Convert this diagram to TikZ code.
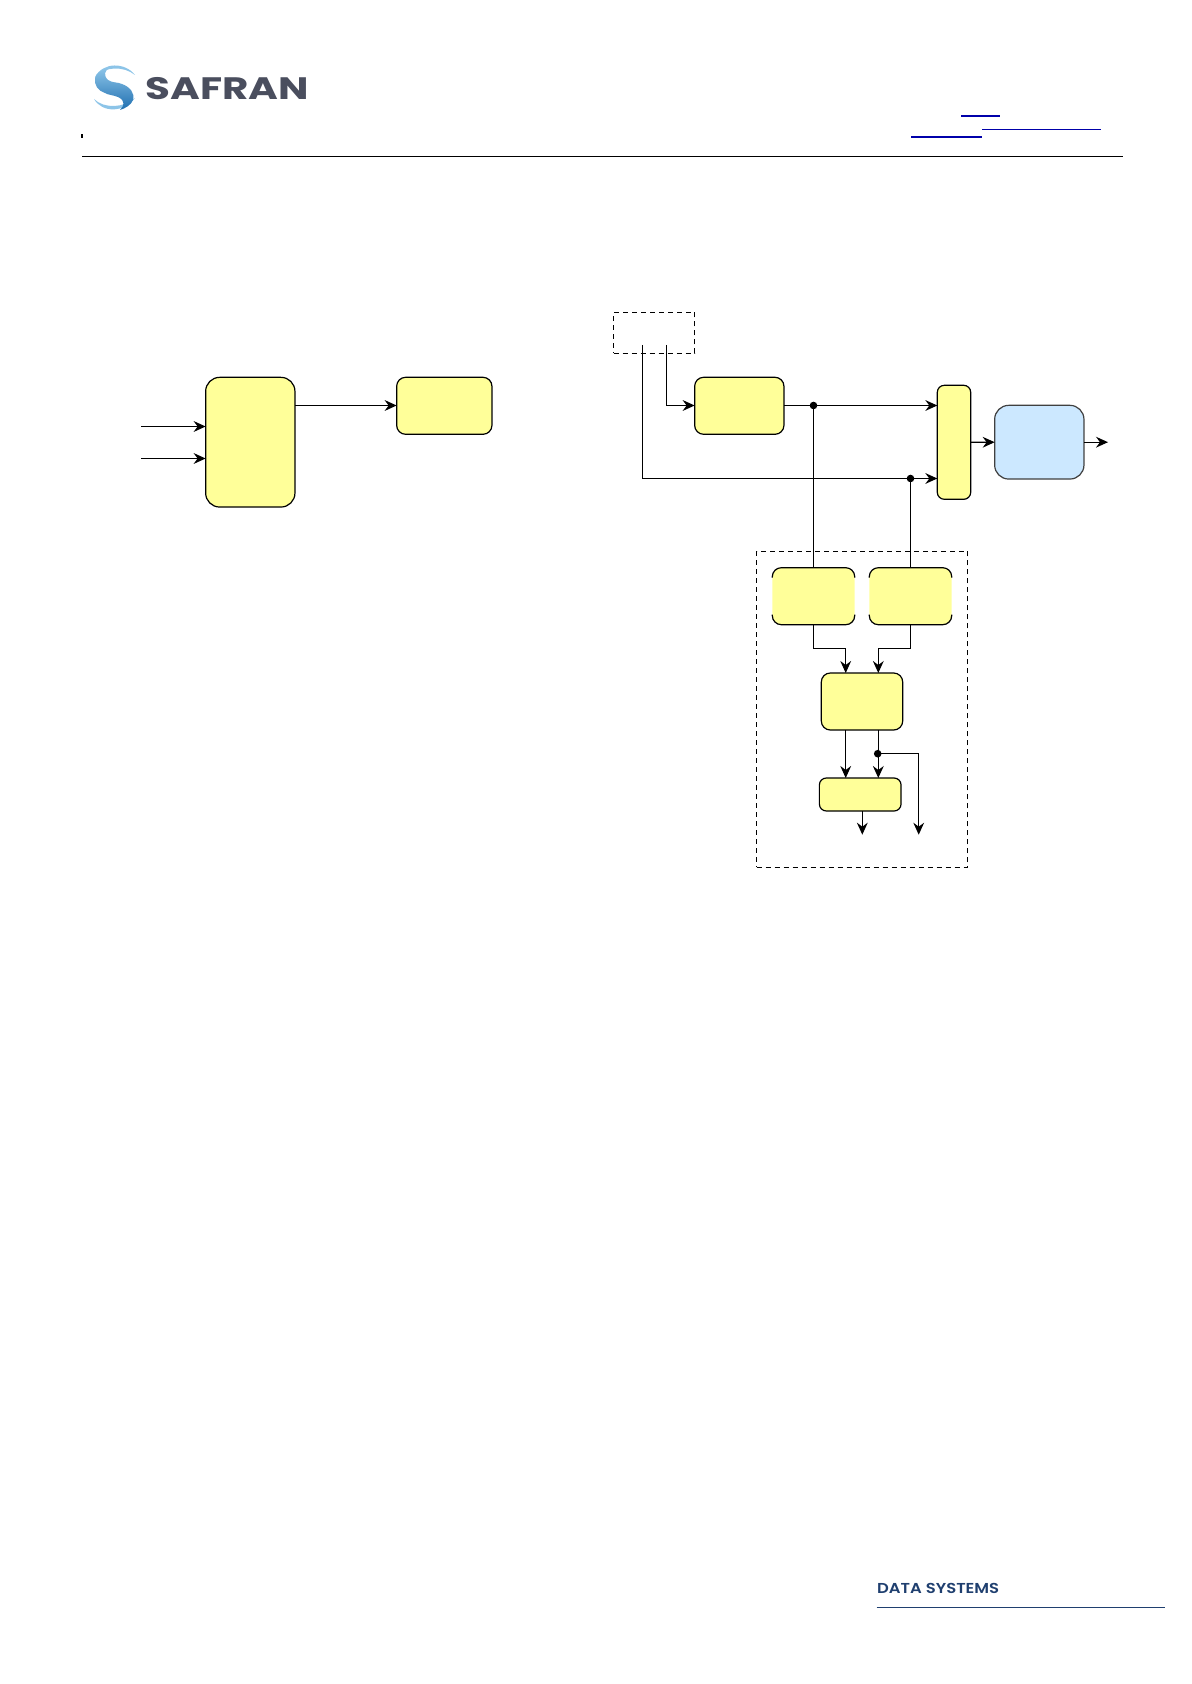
\documentclass[tikz,border=0pt]{standalone}
\usepackage{fontspec}
\usetikzlibrary{arrows.meta,calc}
\newfontfamily\logofont{Poppins}
\newfontfamily\footfont{Poppins SemiBold}
\definecolor{boxyellow}{HTML}{FFFF99}
\definecolor{boxblue}{HTML}{CCE8FF}
\definecolor{linkblue}{HTML}{0000AA}
\definecolor{footblue}{HTML}{1F3F6F}
\definecolor{logogrey}{HTML}{4A4E5E}
\definecolor{swooshlight}{HTML}{8CC4E8}
\definecolor{swooshdark}{HTML}{1F6FB0}
\tikzset{
  yellowbox/.style={draw=black,fill=boxyellow,line width=0.6pt,rounded corners=#1,inner sep=0pt,outer sep=0pt},
  yellowbox/.default=4.5pt,
  softbox/.style={fill=boxyellow,rounded corners=4.5pt,inner sep=0pt,outer sep=0pt},
  bluebox/.style={draw=black!75,fill=boxblue,line width=0.6pt,rounded corners=7pt,inner sep=0pt,outer sep=0pt},
  dashbox/.style={draw=black,dashed,dash pattern=on 2.5pt off 2pt,line width=0.5pt,inner sep=0pt,outer sep=0pt},
  wire/.style={draw=black,line width=0.6pt},
  arr/.style={wire,-{Stealth[length=6pt,width=5.4pt,inset=2pt]}},
  junction/.style={circle,fill=black,inner sep=0pt,outer sep=0pt,minimum size=3.8pt},
  rulek/.style={draw=black,line width=0.6pt},
}
\begin{document}
\begin{tikzpicture}[x=0.5pt,y=-0.5pt]
\useasboundingbox (0,0) rectangle (1191,1684);
% header
\draw[rulek] (82,156.3) -- (1123,156.3);
\fill[black] (80.8,134) rectangle (82.6,138.5);
\draw[linkblue,line width=1pt] (961,115.7) -- (1000,115.7);
\draw[linkblue,line width=0.5pt] (982,129.3) -- (1101,129.3);
\draw[linkblue,line width=1pt] (911,137) -- (982,137);
% logo
\fill[swooshlight] (95,77) .. controls (103,62) and (125,62) .. (135,75) .. controls (124,66) and (105,66) .. (95,77) -- cycle;
\fill[swooshlight] (94,99) .. controls (102,113) and (124,113) .. (135,98) .. controls (124,108) and (104,109) .. (94,99) -- cycle;
\shade[top color=swooshlight,bottom color=swooshdark]
  (109,68) .. controls (105,71) and (103,75) .. (108,80)
  .. controls (112,83) and (118,82) .. (122,84)
  .. controls (130,87) and (135,93) .. (133,100)
  .. controls (131,105) and (126,108) .. (120,110)
  .. controls (124,106) and (126,101) .. (118,97)
  .. controls (113,95) and (108,95) .. (105,93)
  .. controls (98,91) and (94,85) .. (95,78)
  .. controls (96,73) and (103,69) .. (109,68) -- cycle;
\node[anchor=west,inner sep=0pt,text=logogrey,xscale=1.305] (logo) at (145,89) {\logofont\bfseries\fontsize{15.5pt}{15.5pt}\selectfont SAFRAN};
% footer
\node[anchor=west,inner sep=0pt,text=footblue,xscale=1.14] (foot) at (876.7,1588) {\footfont\fontsize{7.2pt}{8pt}\selectfont DATA SYSTEMS};
\draw[footblue,line width=0.7pt] (876.7,1607.3) -- (1165,1607.3);
% left diagram
\node[yellowbox=7pt,minimum width=44.65pt,minimum height=64.85pt] (A) at (250.3,442.2) {};
\node[yellowbox,minimum width=47.65pt,minimum height=28.5pt] (B) at (444.3,405.8) {};
\coordinate (inA) at (141,426.5);
\coordinate (inB) at (141,458.5);
\draw[arr] (inA) -- (inA -| A.west);
\draw[arr] (inB) -- (inB -| A.west);
\draw[arr] (A.east |- 0,405.5) -- (B.west |- 0,405.5);
% right diagram
\node[dashbox,minimum width=40.5pt,minimum height=20.5pt] (S) at (654,332.8) {};
\node[yellowbox,minimum width=44.65pt,minimum height=28.5pt] (C) at (739.3,405.8) {};
\node[yellowbox=3.5pt,minimum width=16.7pt,minimum height=57pt] (M) at (954,442.3) {};
\node[bluebox,minimum width=44.65pt,minimum height=36.85pt] (N) at (1039.3,442.2) {};
\node[dashbox,minimum width=105.5pt,minimum height=158pt] (G) at (862.2,709.3) {};
% D and E: filled, with only top and bottom outlined
\node[softbox,minimum width=41.2pt,minimum height=28.5pt] (D) at (813.5,596.2) {};
\node[softbox,minimum width=41.2pt,minimum height=28.5pt] (E) at (910.5,596.2) {};
\foreach \n in {D,E}{
  \draw[wire,rounded corners=4.5pt] ($(\n.north west)+(0,-5pt)$) -- (\n.north west) -- (\n.north east) -- ($(\n.north east)+(0,-5pt)$);
  \draw[wire,rounded corners=4.5pt] ($(\n.south west)+(0,5pt)$) -- (\n.south west) -- (\n.south east) -- ($(\n.south east)+(0,5pt)$);
}
\node[yellowbox,minimum width=40.7pt,minimum height=28.5pt] (F) at (862,701.5) {};
\node[yellowbox=3.5pt,minimum width=40.85pt,minimum height=16.5pt] (H) at (860.2,794.5) {};
\coordinate (s1) at (642.7,345);
\coordinate (s2) at (666.3,345);
\coordinate (upper) at (642.7,405.5);
\coordinate (lowrun) at (642.7,478.5);
\node[junction] (j1) at (upper -| D.north) {};
\node[junction] (j2) at (E.north |- lowrun) {};
\draw[arr] (s2) |- (upper -| C.west);
\draw[wire] (upper -| C.east) -- (j1);
\draw[arr] (j1) -- (j1 -| M.west);
\draw[wire] (s1) -- (lowrun) -- (j2);
\draw[arr] (j2) -- (j2 -| M.west);
\draw[arr] (M.east) -- (N.west);
\coordinate (out) at (1108,442.2);
\draw[arr] (N.east) -- (out);
\draw[wire] (j1) -- (D.north);
\draw[wire] (j2) -- (E.north);
\coordinate (fl) at (845.7,648.3);
\coordinate (fr) at (878.3,648.3);
\draw[arr] (D.south) |- (fl) -- (fl |- F.north);
\draw[arr] (E.south) |- (fr) -- (fr |- F.north);
\draw[arr] (fl |- F.south) -- (fl |- H.north);
\draw[arr] (fr |- F.south) -- (fr |- H.north);
\node[junction] (j3) at (877.7,753.7) {};
\coordinate (bro) at (918.7,834.7);
\draw[arr] (j3.center) -| (bro);
\coordinate (hout) at (862.3,834.7);
\draw[arr] (hout |- H.south) -- (hout);
\end{tikzpicture}
\end{document}
